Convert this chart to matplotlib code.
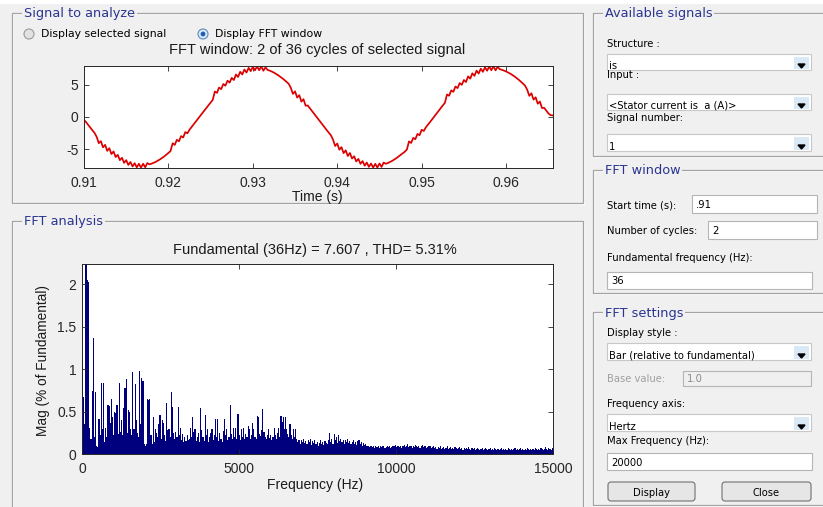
"""Recreation of the powergui FFT analysis window (stator current, 36 Hz)."""

import matplotlib

matplotlib.use("Agg")
import matplotlib.pyplot as plt
import numpy as np
from matplotlib.patches import Circle, FancyBboxPatch, Polygon, Rectangle

# ---- data ----
t_start = 0.91
t_step = 0.00025
stator_current = [
    -0.45, -0.81, -1.24, -1.66, -2.08, -2.49, -3.09, -4.08, -3.76, -4.73,
    -4.34, -5.28, -4.86, -5.77, -5.37, -6.24, -5.90, -6.73, -6.36, -7.15,
    -6.73, -7.47, -7.01, -7.71, -7.20, -7.85, -7.29, -7.89, -7.29, -7.84,
    -7.18, -7.38, -7.28, -7.14, -6.99, -6.80, -6.61, -6.38, -6.15, -5.88,
    -5.60, -5.30, -4.09, -4.35, -3.55, -3.79, -2.98, -3.19, -2.35, -2.54,
    -1.98, -1.56, -1.14, -0.71, -0.28, 0.15, 0.57, 1.00, 1.42, 1.84,
    2.26, 2.67, 3.97, 3.76, 4.59, 4.34, 5.14, 4.88, 5.66, 5.36,
    6.10, 5.76, 6.62, 6.24, 7.05, 6.63, 7.40, 6.93, 7.66, 7.15,
    7.83, 7.27, 7.90, 7.29, 7.87, 7.21, 7.75, 7.34, 7.23, 7.08,
    6.92, 6.72, 6.51, 6.27, 6.03, 5.76, 5.48, 5.16, 4.54, 3.60,
    4.00, 3.03, 3.40, 2.41, 2.77, 1.76, 1.80, 1.38, 0.95, 0.52,
    0.09, -0.34, -0.77, -1.20, -1.62, -2.04, -2.45, -2.85, -3.54, -4.52,
    -4.14, -5.10, -4.70, -5.63, -5.20, -6.08, -5.61, -6.47, -6.12, -6.93,
    -6.53, -7.30, -6.87, -7.59, -7.10, -7.78, -7.25, -7.88, -7.30, -7.88,
    -7.25, -7.78, -7.10, -7.29, -7.17, -7.01, -6.84, -6.63, -6.42, -6.17,
    -5.91, -5.66, -5.41, -5.06, -3.80, -4.05, -3.25, -3.47, -2.64, -2.84,
    -1.99, -2.17, -1.60, -1.19, -0.77, -0.34, 0.09, 0.52, 0.95, 1.38,
    1.80, 2.21, 3.51, 3.31, 4.15, 3.93, 4.75, 4.50, 5.29, 5.01,
    5.77, 5.45, 6.33, 5.97, 6.81, 6.42, 7.22, 6.78, 7.53, 7.04,
    7.75, 7.21, 7.87, 7.29, 7.90, 7.27, 7.83, 7.45, 7.36, 7.23,
    7.10, 6.93, 6.75, 6.54, 6.32, 6.06, 5.80, 5.51, 5.21, 4.88,
    4.25, 3.30, 3.69, 2.71, 3.07, 2.07, 2.41, 1.40, 1.44, 1.01,
    0.58, 0.30, 0.25,
]
time_ticks = [0.91, 0.92, 0.93, 0.94, 0.95, 0.96]
current_ticks = [-5, 0, 5]

harmonic_step_hz = 36
# magnitude in % of fundamental, one bar per 36 Hz from 0 Hz
fft_mag = [
    1.12, 0.67, 0.35, 100.0, 2.40, 2.05, 2.02, 0.31, 0.18, 0.74,
    1.36, 0.20, 0.73, 0.10, 0.08, 0.41, 0.22, 0.84, 0.30, 0.83,
    0.14, 0.31, 0.20, 0.58, 0.57, 0.36, 0.65, 0.43, 0.22, 0.50,
    0.48, 0.58, 0.24, 0.84, 0.26, 0.40, 0.22, 0.54, 0.78, 0.88,
    0.25, 0.52, 0.49, 0.30, 0.22, 0.96, 0.30, 0.82, 0.40, 0.25,
    0.20, 0.98, 0.35, 0.90, 0.86, 0.12, 0.10, 0.12, 0.65, 0.64,
    0.65, 0.22, 0.12, 0.44, 0.14, 0.30, 0.25, 0.20, 0.35, 0.46,
    0.18, 0.40, 0.37, 0.22, 0.15, 0.60, 0.28, 0.29, 0.20, 0.73,
    0.55, 0.25, 0.18, 0.26, 0.20, 0.55, 0.22, 0.31, 0.16, 0.24,
    0.14, 0.20, 0.15, 0.22, 0.16, 0.18, 0.31, 0.20, 0.44, 0.26,
    0.29, 0.15, 0.20, 0.25, 0.14, 0.54, 0.28, 0.20, 0.15, 0.46,
    0.22, 0.29, 0.14, 0.20, 0.25, 0.30, 0.17, 0.22, 0.41, 0.20,
    0.41, 0.15, 0.25, 0.18, 0.14, 0.27, 0.41, 0.22, 0.29, 0.16,
    0.20, 0.58, 0.24, 0.18, 0.31, 0.20, 0.31, 0.18, 0.47, 0.22,
    0.16, 0.29, 0.20, 0.31, 0.18, 0.24, 0.20, 0.33, 0.30, 0.18,
    0.22, 0.36, 0.29, 0.20, 0.18, 0.45, 0.43, 0.24, 0.21, 0.28,
    0.53, 0.26, 0.20, 0.18, 0.22, 0.30, 0.19, 0.22, 0.16, 0.20,
    0.31, 0.22, 0.18, 0.25, 0.31, 0.20, 0.45, 0.38, 0.44, 0.30,
    0.44, 0.30, 0.24, 0.20, 0.35, 0.22, 0.18, 0.29, 0.20, 0.30,
    0.18, 0.14, 0.17, 0.12, 0.16, 0.14, 0.18, 0.13, 0.15, 0.12,
    0.16, 0.14, 0.18, 0.11, 0.15, 0.13, 0.17, 0.12, 0.14, 0.10,
    0.13, 0.16, 0.12, 0.14, 0.11, 0.15, 0.13, 0.12, 0.16, 0.25,
    0.14, 0.18, 0.12, 0.24, 0.16, 0.20, 0.13, 0.22, 0.15, 0.18,
    0.14, 0.17, 0.12, 0.16, 0.14, 0.18, 0.13, 0.15, 0.12, 0.14,
    0.16, 0.12, 0.14, 0.11, 0.15, 0.17, 0.12, 0.14, 0.10, 0.13,
    0.11, 0.12, 0.09, 0.10, 0.08, 0.09, 0.10, 0.08, 0.09, 0.07,
    0.09, 0.08, 0.10, 0.07, 0.09, 0.08, 0.10, 0.09, 0.07, 0.08,
    0.10, 0.08, 0.09, 0.07, 0.08, 0.10, 0.09, 0.11, 0.08, 0.09,
    0.10, 0.08, 0.09, 0.07, 0.10, 0.11, 0.08, 0.09, 0.12, 0.08,
    0.10, 0.09, 0.07, 0.10, 0.08, 0.11, 0.09, 0.08, 0.10, 0.07,
    0.09, 0.11, 0.08, 0.10, 0.09, 0.07, 0.08, 0.10, 0.09, 0.07,
    0.08, 0.09, 0.07, 0.08, 0.06, 0.08, 0.07, 0.09, 0.06, 0.07,
    0.08, 0.06, 0.07, 0.09, 0.06, 0.07, 0.08, 0.06, 0.07, 0.06,
    0.08, 0.07, 0.06, 0.07, 0.08, 0.06, 0.07, 0.05, 0.07, 0.06,
    0.07, 0.06, 0.08, 0.06, 0.05, 0.07, 0.06, 0.07, 0.05, 0.06,
    0.07, 0.06, 0.05, 0.06, 0.07, 0.05, 0.06, 0.07, 0.06, 0.05,
    0.06, 0.07, 0.05, 0.06, 0.05, 0.07, 0.06, 0.05, 0.06, 0.05,
    0.06, 0.07, 0.05, 0.06, 0.05, 0.06, 0.05, 0.07, 0.06, 0.05,
    0.06, 0.05, 0.06, 0.07, 0.05, 0.06, 0.05, 0.06, 0.07, 0.05,
    0.06, 0.05, 0.06, 0.05, 0.07, 0.06, 0.05, 0.06, 0.05, 0.06,
    0.05, 0.07, 0.06, 0.05, 0.06, 0.05, 0.07, 0.06, 0.05, 0.06,
    0.08, 0.06, 0.05, 0.07, 0.06, 0.05, 0.07,
]
freq_ticks = [0, 5000, 10000, 15000]
mag_ticks = [0, 0.5, 1, 1.5, 2]
mag_tick_labels = ["0", "0.5", "1", "1.5", "2"]

# ---- layout helpers (pixel coordinates, origin top-left) ----
W, H = 823, 507
BG = "#f0f0f0"
TITLE_BLUE = "#2b3590"
GUI_FONT = "DejaVu Sans"
AX_FONT = "Liberation Sans"
SIDE = 7.2  # font size of the right-hand control labels


def box(x0, y0, x1, y1):
    return [x0 / W, 1 - y1 / H, (x1 - x0) / W, (y1 - y0) / H]


fig = plt.figure(figsize=(W / 100, H / 100), dpi=100, facecolor=BG)
ui = fig.add_axes([0, 0, 1, 1])
ui.set_xlim(0, W)
ui.set_ylim(H, 0)
ui.axis("off")
ui.set_zorder(0)
ui.add_patch(Rectangle((0, 0), W, 4, color="white", lw=0))


def label(x, y, s, size=SIDE, color="black", **kw):
    ui.text(x, y, s, fontsize=size, color=color, family=GUI_FONT, va="center", **kw)


def panel(x0, y0, x1, y1, title):
    ui.add_patch(Rectangle((x0 + 1, y0 + 1), x1 - x0, y1 - y0, fill=False, ec="white", lw=0.9))
    ui.add_patch(Rectangle((x0, y0), x1 - x0, y1 - y0, fill=False, ec="#a3a3a3", lw=0.9))
    label(x0 + 12, y0 + 1, title, size=9.3, color=TITLE_BLUE,
          bbox=dict(fc=BG, ec="none", pad=1.2))


def textbox(x0, y0, x1, y1, s, fc="white", color="black"):
    ui.add_patch(Rectangle((x0, y0), x1 - x0, y1 - y0, fc=fc, ec="#b5b5b5", lw=0.8))
    label(x0 + 4, (y0 + y1) / 2 + 1, s, color=color)


def dropdown(x0, y0, x1, y1, s):
    ui.add_patch(Rectangle((x0, y0), x1 - x0, y1 - y0, fc="white", ec="#c8c8c8", lw=0.8))
    ui.add_patch(Rectangle((x1 - 17, y0 + 3), 15, y1 - y0 - 4, fc="#dbe9f6", ec="none"))
    ym = y1 - 4
    ui.add_patch(Polygon([[x1 - 13, ym - 2], [x1 - 6, ym - 2], [x1 - 9.5, ym + 2]], color="black"))
    label(x0 + 2, y1 - 4, s)


def button(x0, y0, x1, y1, s):
    ui.add_patch(FancyBboxPatch((x0, y0), x1 - x0, y1 - y0, boxstyle="round,pad=0,rounding_size=3",
                                fc="#e6e6e6", ec="#707070", lw=0.8))
    label((x0 + x1) / 2, (y0 + y1) / 2 + 1, s, ha="center")


# left panels
panel(12, 13, 583, 203, "Signal to analyze")
panel(12, 221, 583, 512, "FFT analysis")

ui.add_patch(Circle((29, 34), 5, fc="#e2e2e2", ec="#9a9a9a", lw=0.8))
label(41, 34, "Display selected signal", size=7.8)
ui.add_patch(Circle((203, 34), 5, fc="#dceaf8", ec="#5a8ac0", lw=0.8))
ui.add_patch(Circle((203, 34), 2.4, fc="#1f5fb0", ec="none"))
label(215, 34, "Display FFT window", size=7.8)

# right panels
panel(593, 13, 830, 156, "Available signals")
label(607, 44, "Structure :")
dropdown(607, 54, 811, 70, "is")
label(607, 75, "Input :")
dropdown(607, 94, 811, 110, "<Stator current is  a (A)>")
label(607, 118, "Signal number:")
dropdown(607, 134, 811, 151, "1")

panel(593, 170, 830, 293, "FFT window")
label(607, 205, "Start time (s):")
textbox(692, 195, 817, 213, ".91")
label(607, 231, "Number of cycles:")
textbox(708, 221, 817, 239, "2")
label(607, 258, "Fundamental frequency (Hz):")
textbox(607, 272, 812, 289, "36")

panel(593, 312, 830, 505, "FFT settings")
label(607, 333, "Display style :")
dropdown(607, 343, 811, 360, "Bar (relative to fundamental)")
label(607, 379, "Base value:", color="#a0a0a0")
textbox(683, 371, 811, 386, "1.0", fc=BG, color="#8a8a8a")
label(607, 404, "Frequency axis:")
dropdown(607, 414, 811, 431, "Hertz")
label(607, 441, "Max Frequency (Hz):")
textbox(607, 453, 812, 470, "20000")
button(608, 482, 695, 501, "Display")
button(722, 482, 811, 501, "Close")


def style_axes(ax):
    ax.set_zorder(1)
    ax.set_facecolor("white")
    for sp in ax.spines.values():
        sp.set_color("#262626")
        sp.set_linewidth(0.7)
    ax.tick_params(direction="in", length=3.5, width=0.6, top=True, right=True,
                   labelsize=10, colors="#262626")
    for lab in ax.get_xticklabels() + ax.get_yticklabels():
        lab.set_family(AX_FONT)


# time signal
ax1 = fig.add_axes(box(84, 66, 553, 168))
t = t_start + t_step * np.arange(len(stator_current))
ax1.plot(t, stator_current, color="#dc0000", lw=1.25)
ax1.set_xlim(t_start, t_start + 2 / 36)
ax1.set_ylim(-7.95, 7.95)
ax1.set_xticks(time_ticks, [f"{v:.2f}" for v in time_ticks])
ax1.set_yticks(current_ticks, [str(v) for v in current_ticks])
style_axes(ax1)
ax1.tick_params(axis="x", pad=6)
ax1.tick_params(axis="y", pad=4)
ui.text(317, 50, "FFT window: 2 of 36 cycles of selected signal", fontsize=10.5,
        family=AX_FONT, ha="center", va="center", color="#1a1a1a")
ui.text(317, 197, "Time (s)", fontsize=10, family=AX_FONT, ha="center", va="center",
        color="#1a1a1a")

# FFT bars
ax2 = fig.add_axes(box(82, 264, 553, 454))
freqs = harmonic_step_hz * np.arange(len(fft_mag))
ax2.bar(freqs, fft_mag, width=harmonic_step_hz, color="#00007f", lw=0)
ax2.set_xlim(0, 15000)
ax2.set_ylim(0, 2.236)
ax2.set_xticks(freq_ticks, [str(v) for v in freq_ticks])
ax2.set_yticks(mag_ticks, mag_tick_labels)
style_axes(ax2)
ax2.tick_params(axis="x", pad=6)
ax2.tick_params(axis="y", pad=4)
ui.text(315, 250, "Fundamental (36Hz) = 7.607 , THD= 5.31%", fontsize=10.5,
        family=AX_FONT, ha="center", va="center", color="#1a1a1a")
ui.text(315, 485, "Frequency (Hz)", fontsize=10, family=AX_FONT, ha="center",
        va="center", color="#1a1a1a")
ui.text(43, 361, "Mag (% of Fundamental)", fontsize=9.8, family=AX_FONT, ha="center",
        va="center", rotation=90, color="#1a1a1a")

fig.savefig("out.png", dpi=100, facecolor=BG)
